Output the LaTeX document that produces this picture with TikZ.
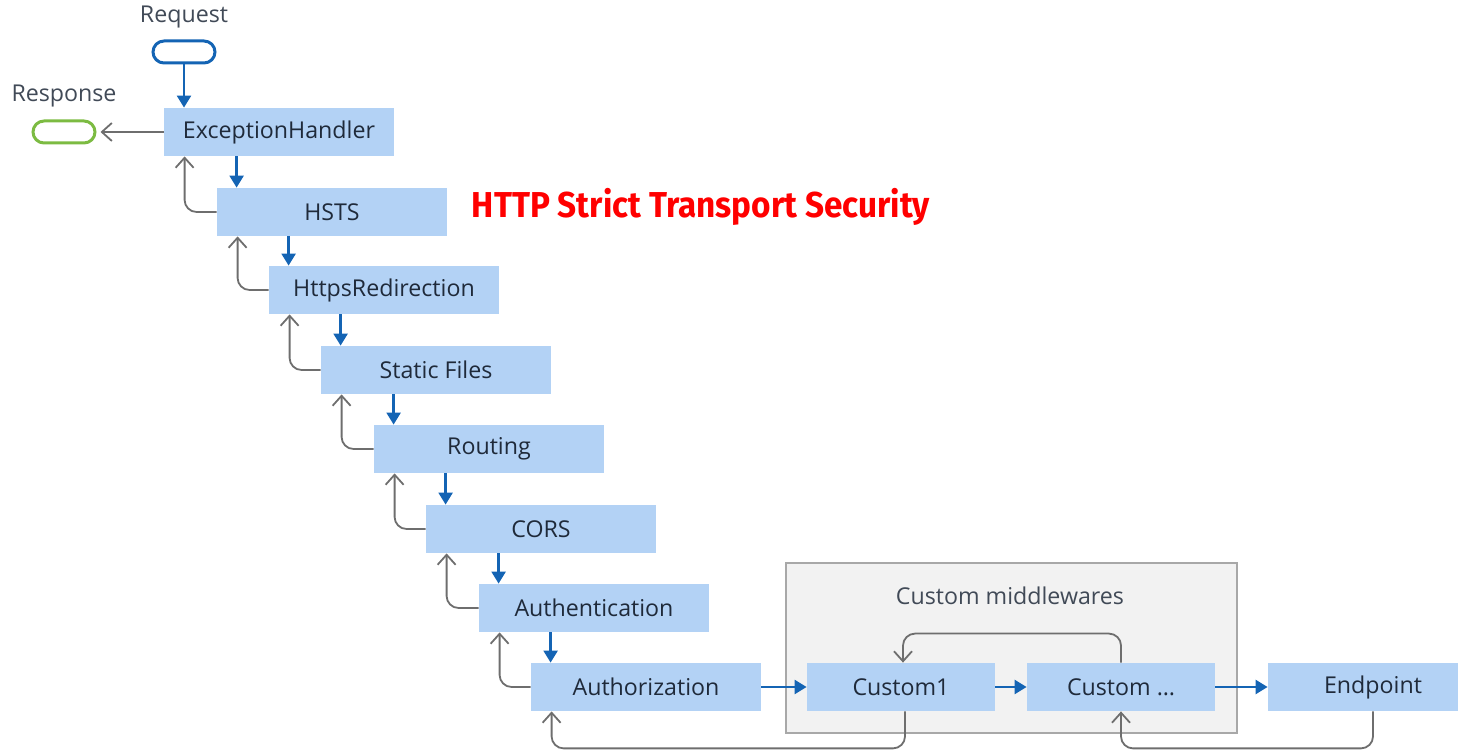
\documentclass[tikz,border=0pt]{standalone}
\usepackage{fontspec}
\setmainfont{Open Sans}
\newfontfamily\notefont{Fira Sans}
\usetikzlibrary{arrows.meta}

\definecolor{boxfill}{HTML}{B3D2F5}
\definecolor{boxtext}{HTML}{1F2A3A}
\definecolor{flowblue}{HTML}{1464B4}
\definecolor{backgray}{HTML}{6E6E6E}
\definecolor{groupfill}{HTML}{F2F2F2}
\definecolor{groupline}{HTML}{A8A8A8}
\definecolor{respgreen}{HTML}{7CBB42}
\definecolor{notered}{HTML}{FF0000}

\tikzset{
  mw/.style={fill=boxfill, text=boxtext, minimum width=115pt, minimum height=24pt,
             inner sep=0pt, font=\fontsize{11.6}{13}\selectfont},
  endbox/.style={mw, minimum width=94pt},
  pill/.style={draw, line width=1.5pt, minimum width=31pt, minimum height=11pt,
               inner sep=0pt, rounded corners=5.5pt},
  lbl/.style={text=boxtext!85, font=\fontsize{11.6}{13}\selectfont, inner sep=0pt},
  fwd/.style={draw=flowblue, line width=1.2pt, -{Triangle[width=7pt,length=6pt]}},
  back/.style={draw=backgray, line width=0.9pt, rounded corners=6pt,
               -{Straight Barb[width=9pt,length=5pt,line width=0.9pt]}},
}

\begin{document}
\begin{tikzpicture}[x=0.5pt,y=-0.5pt]
  \useasboundingbox (0,0) rectangle (1458,753);
  \clip (0,0) rectangle (1458,753);

  % request / response terminals
  \node[lbl] (reqlbl) at (184,17) {Request};
  \node[pill, draw=flowblue] (req) at (184,52) {};
  \node[lbl] (resplbl) at (64,96) {Response};
  \node[pill, draw=respgreen] (resp) at (64,132) {};

  % the middleware staircase
  \node[mw] (eh)    at (279,132) {ExceptionHandler};
  \node[mw] (hsts)  at (332,212) {HSTS};
  \node[mw] (hr)    at (384,290) {HttpsRedirection};
  \node[mw] (sf)    at (436,370) {Static Files};
  \node[mw] (rt)    at (489,449) {Routing};
  \node[mw] (cors)  at (541,529) {CORS};
  \node[mw] (authn) at (594,608) {Authentication};
  \node[mw] (authz) at (646,687) {Authorization};

  % custom middleware group
  \node[draw=groupline, fill=groupfill, line width=0.6pt, minimum width=225.5pt,
        minimum height=85pt, inner sep=0pt] (grp) at (1011.5,648) {};
  \node[lbl] (grplbl) at (1010,596) {Custom middlewares};
  \node[endbox] (c1)    at (901,687)  {Custom1};
  \node[endbox] (cdots) at (1121,687) {Custom \dots};
  % the endpoint box runs past the right edge
  \node[endbox, minimum width=105pt] (ep) at (1373,687) {Endpoint};

  % note beside HSTS
  \node[text=notered, inner sep=0pt, font=\notefont\bfseries\fontsize{18}{20}\selectfont]
    (note) at (701,207) {\scalebox{0.925}[1]{HTTP Strict Transport Security}};

  % request path
  \draw[fwd] (req.south) -- (req.south |- eh.north);
  \draw[back] (eh.west) -- ([xshift=2pt]resp.east);

  \foreach \a/\b in {eh/hsts, hsts/hr, hr/sf, sf/rt, rt/cors, cors/authn, authn/authz} {
    \draw[fwd] ([xshift=10pt]\b.north west |- \a.south) -- ([xshift=10pt]\b.north west);
    \draw[back] (\b.west) -| ([xshift=10.5pt]\a.south west);
  }

  \draw[fwd] (authz.east) -- (c1.west);
  \draw[fwd] (c1.east) -- (cdots.west);
  \draw[fwd] (cdots.east) -- (ep.west);

  % response path through the custom middlewares
  \draw[back] (cdots.north) -- ++(0,-29) -| ([xshift=1pt]c1.north);
  \draw[back] ([xshift=2pt]c1.south) -- ++(0,37) -| ([xshift=10.5pt]authz.south west);
  \draw[back] (ep.south) -- ++(0,37) -| (cdots.south);
\end{tikzpicture}
\end{document}
